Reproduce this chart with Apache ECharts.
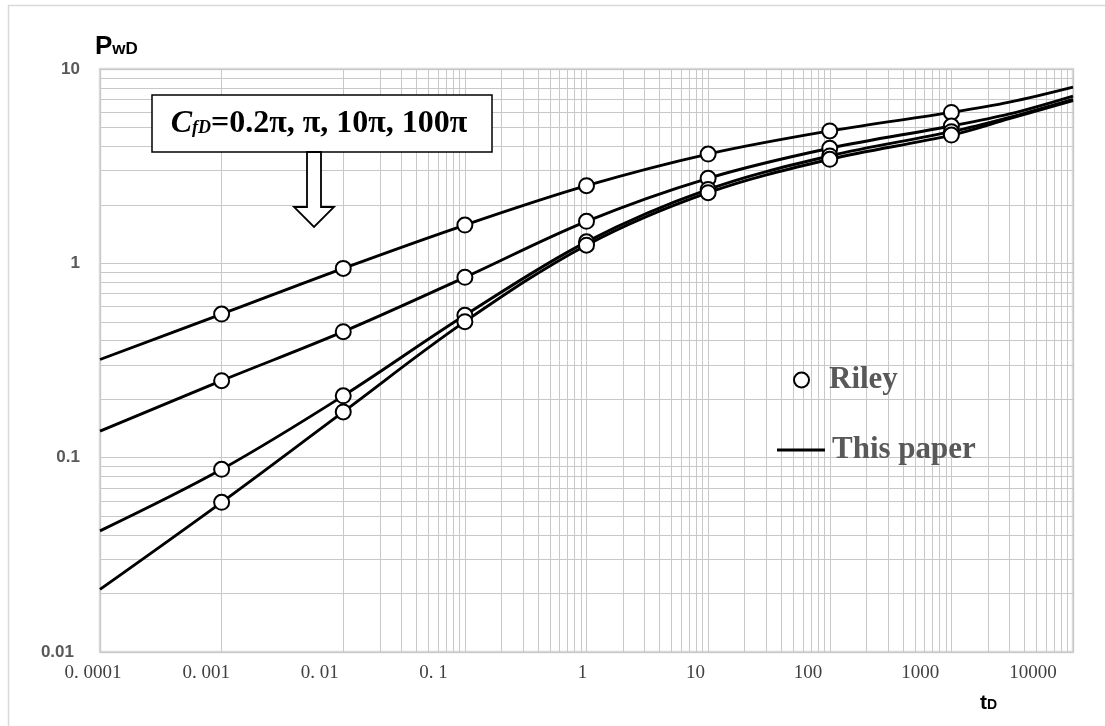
<!DOCTYPE html>
<html>
<head>
<meta charset="utf-8">
<title>PwD - tD</title>
<script src="https://cdn.jsdelivr.net/npm/echarts@6.0.0/dist/echarts.min.js"></script>
<style>
  html, body { margin: 0; padding: 0; background: #fff; }
  #chart { width: 1105px; height: 726px; }
</style>
</head>
<body>
<div id="chart"></div>
<script>
// computed curves (This paper), one per CfD
const curveT = [0.0001, 0.001, 0.01, 0.1, 1, 10, 100, 1000, 3000, 10000];
const paper1 = [0.32, 0.548, 0.942, 1.574, 2.51, 3.65, 4.80, 5.98, 6.75, 8.07];
const paper2 = [0.137, 0.249, 0.445, 0.847, 1.645, 2.74, 3.91, 5.09, 5.87, 7.26];
const paper3 = [0.042, 0.0871, 0.208, 0.540, 1.29, 2.40, 3.57, 4.76, 5.64, 6.98];
const paper4 = [0.021, 0.0589, 0.172, 0.501, 1.24, 2.31, 3.43, 4.57, 5.55, 6.87];

// Riley points
const rileyT = [0.001, 0.01, 0.1, 1, 10, 100, 1000];
const riley1 = [0.548, 0.942, 1.574, 2.51, 3.65, 4.80, 5.98];
const riley2 = [0.249, 0.445, 0.847, 1.645, 2.74, 3.91, 5.09];
const riley3 = [0.0871, 0.208, 0.540, 1.29, 2.40, 3.57, 4.76];
const riley4 = [0.0589, 0.172, 0.501, 1.24, 2.31, 3.43, 4.57];

const xTickLabels = ['0. 0001', '0. 001', '0. 01', '0. 1', '1', '10', '100', '1000', '10000'];
const yTickLabels = ['0.01', '0.1', '1', '10'];
const cfdValues = '=0.2π, π, 10π, 100π';

// labels in the figure sit left of their ticks
const xLabelShift = [7, 15.3, 23.5, 31.5, 4, 12.7, 21.8, 31.2, 40.1];
const yLabelShift = [6, 0, 0, 0];

const gridColor = '#c8c8c8';
const serif = 'Liberation Serif';
const sans = 'Liberation Sans';

const xRich = {};
xTickLabels.forEach((_, i) => {
  xRich['r' + i] = {
    fontFamily: serif, fontSize: 19, color: '#404040',
    padding: [0, xLabelShift[i] * 2, 0, 0],
  };
});
const yRich = {};
yTickLabels.forEach((_, i) => {
  yRich['y' + i] = {
    fontFamily: sans, fontSize: 17, fontWeight: 'bold', color: '#595959',
    padding: [0, yLabelShift[i], 0, 0],
  };
});

// minor grid lines 2..9 in each decade
const minorX = [];
for (let e = -4; e < 4; e++) {
  for (let m = 2; m <= 9; m++) minorX.push({ xAxis: m * Math.pow(10, e) });
}
const minorY = [];
for (let e = -2; e < 1; e++) {
  for (let m = 2; m <= 9; m++) minorY.push({ yAxis: m * Math.pow(10, e) });
}

const paperSeries = [paper1, paper2, paper3, paper4].map((vals) => ({
  name: 'This paper',
  type: 'line',
  data: curveT.map((t, i) => [t, vals[i]]),
  symbol: 'none',
  smooth: 0.35,
  lineStyle: { color: '#000', width: 2.9 },
  itemStyle: { color: '#000' },
  z: 3,
}));

const rileySeries = [riley1, riley2, riley3, riley4].map((vals) => ({
  name: 'Riley',
  type: 'scatter',
  data: rileyT.map((t, i) => [t, vals[i]]),
  symbol: 'circle',
  symbolSize: 15,
  itemStyle: { color: '#fff', borderColor: '#000', borderWidth: 2, opacity: 1 },
  z: 4,
}));

const legendText = {
  fontFamily: serif, fontWeight: 'bold', fontSize: 31, color: '#595959',
};

const chart = echarts.init(document.getElementById('chart'));
chart.setOption({
  animation: false,
  backgroundColor: '#fff',
  grid: {
    left: 100, top: 69, right: 32, bottom: 74,
    show: true, borderColor: '#d9d9d9', borderWidth: 2.5,
  },
  xAxis: {
    type: 'log',
    logBase: 10,
    min: 0.0001,
    max: 10000,
    splitNumber: 8,
    axisLine: { show: false },
    axisTick: { show: false },
    splitLine: { show: true, lineStyle: { color: gridColor, width: 1 } },
    axisLabel: {
      margin: 12,
      formatter: (v) => {
        const i = Math.round(Math.log10(v)) + 4;
        return '{r' + i + '|' + xTickLabels[i] + '}';
      },
      rich: xRich,
    },
  },
  yAxis: {
    type: 'log',
    logBase: 10,
    min: 0.01,
    max: 10,
    splitNumber: 3,
    axisLine: { show: false },
    axisTick: { show: false },
    splitLine: { show: true, lineStyle: { color: gridColor, width: 1 } },
    axisLabel: {
      margin: 20,
      formatter: (v) => {
        const i = Math.round(Math.log10(v)) + 2;
        return '{y' + i + '|' + yTickLabels[i] + '}';
      },
      rich: yRich,
    },
  },
  legend: [
    {
      data: ['Riley'],
      left: 793, top: 364.5, padding: 0, z: 10,
      itemWidth: 15, itemHeight: 15,
      selectedMode: false,
      textStyle: Object.assign({ padding: [0, 0, 0, 15] }, legendText),
    },
    {
      data: [{ name: 'This paper', icon: 'rect' }],
      left: 777, top: 434.5, padding: 0, z: 10,
      itemWidth: 48, itemHeight: 3,
      selectedMode: false,
      itemStyle: { color: '#000', borderWidth: 0 },
      textStyle: Object.assign({ padding: [0, 0, 0, 2] }, legendText),
    },
  ],
  graphic: [
    {
      type: 'rect', silent: true, z: 0,
      shape: { x: 8.5, y: 5.5, width: 1110, height: 740 },
      style: { fill: 'none', stroke: '#d9d9d9', lineWidth: 1.5 },
    },
    {
      type: 'rect', z: 100,
      shape: { x: 152, y: 95, width: 340, height: 57 },
      style: { fill: '#fff', stroke: '#000', lineWidth: 1.5 },
    },
    {
      type: 'text', z: 101, x: 319, y: 124,
      style: {
        text: '{c|C}{f|fD}{r|' + cfdValues + '}',
        align: 'center', verticalAlign: 'middle',
        rich: {
          c: { fontFamily: serif, fontStyle: 'italic', fontWeight: 'bold', fontSize: 32, fill: '#000' },
          f: { fontFamily: serif, fontStyle: 'italic', fontWeight: 'bold', fontSize: 18, fill: '#000', verticalAlign: 'middle', padding: [9, 0, 0, 0] },
          r: { fontFamily: serif, fontWeight: 'bold', fontSize: 32, fill: '#000' },
        },
      },
    },
    {
      type: 'polygon', z: 100,
      shape: { points: [[307, 152], [321, 152], [321, 207], [334, 207], [314, 227], [294, 207], [307, 207]] },
      style: { fill: '#fff', stroke: '#000', lineWidth: 1.8 },
    },
    {
      type: 'text', z: 100, x: 95, y: 46.5,
      style: {
        text: '{p|P}{s|wD}',
        verticalAlign: 'middle',
        rich: {
          p: { fontFamily: sans, fontSize: 26, fontWeight: 'bold', fill: '#000' },
          s: { fontFamily: sans, fontSize: 17, fontWeight: 'bold', fill: '#000', verticalAlign: 'middle', padding: [6, 0, 0, 0] },
        },
      },
    },
    {
      type: 'text', z: 100, x: 980, y: 703,
      style: {
        text: '{t|t}{d|D}',
        verticalAlign: 'middle',
        rich: {
          t: { fontFamily: sans, fontSize: 21, fontWeight: 'bold', fill: '#000' },
          d: { fontFamily: sans, fontSize: 14, fontWeight: 'bold', fill: '#000', verticalAlign: 'middle', padding: [5, 0, 0, 0] },
        },
      },
    },
  ],
  series: [
    {
      name: 'minor grid',
      type: 'line',
      data: [],
      silent: true,
      z: 1,
      markLine: {
        silent: true,
        z: 1,
        symbol: ['none', 'none'],
        label: { show: false },
        lineStyle: { color: gridColor, width: 1, type: 'solid' },
        emphasis: { disabled: true },
        data: minorX.concat(minorY),
      },
    },
    ...paperSeries,
    ...rileySeries,
  ],
});
window.addEventListener('resize', () => chart.resize());
</script>
</body>
</html>
